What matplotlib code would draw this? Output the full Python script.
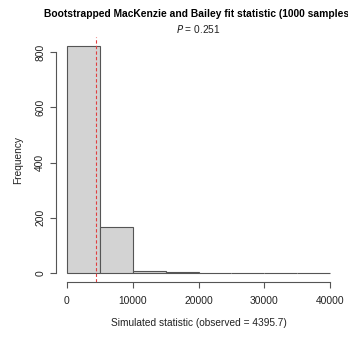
import numpy as np
import matplotlib.pyplot as plt

plt.rcParams['font.family'] = ['Liberation Sans', 'DejaVu Sans']

# Bootstrap histogram (bins of 5000)
bin_edges = [0, 5000, 10000, 15000, 20000, 25000, 30000, 35000, 40000]
counts = [822, 168, 6, 3, 0, 0, 0, 1]
observed = 4395.7
p_value = 0.251
x_ticks = [0, 10000, 20000, 30000, 40000]
y_ticks = [0, 200, 400, 600, 800]

fig = plt.figure(figsize=(3.48, 3.37), dpi=100)
ax = fig.add_axes([56 / 348, 55 / 337, 285 / 348, 245 / 337])

widths = np.diff(bin_edges)
ax.bar(bin_edges[:-1], counts, width=widths, align='edge',
       color='#d3d3d3', edgecolor='#555555', linewidth=0.8)
ax.axvline(observed, color='#e04040', linestyle=(0, (3, 2)), linewidth=0.8)

ax.set_xlim(-0.04 * 40000, 40000 * 1.04)
ax.set_ylim(-0.04 * max(counts), max(counts) * 1.04)

for s in ['top', 'right']:
    ax.spines[s].set_visible(False)
for s in ['left', 'bottom']:
    ax.spines[s].set_color('#555555')
    ax.spines[s].set_linewidth(0.8)
ax.spines['bottom'].set_bounds(0, 40000)
ax.spines['left'].set_bounds(0, 800)

ax.set_xticks(x_ticks)
ax.set_yticks(y_ticks)
ax.set_yticklabels([str(v) for v in y_ticks], rotation=90, va='center')
ax.tick_params(length=4.3, width=0.8, color='#555555', labelsize=7.4,
               labelcolor='#222222')
ax.tick_params(axis='x', pad=5.5)
ax.tick_params(axis='y', pad=3.5)

ax.set_xlabel('Simulated statistic (observed = %.1f)' % observed,
              fontsize=7.3, color='#222222', labelpad=9)
ax.set_ylabel('Frequency', fontsize=7.3, color='#222222', labelpad=9)

fig.text(198.5 / 348, 1 - 14 / 337,
         'Bootstrapped MacKenzie and Bailey fit statistic (1000 samples)',
         ha='center', va='center', fontsize=7.35, fontweight='bold')
fig.text(198.5 / 348, 1 - 29 / 337, r'$P$ = %.3f' % p_value,
         ha='center', va='center', fontsize=7.3, color='#222222')

fig.savefig('out.png', dpi=100)
